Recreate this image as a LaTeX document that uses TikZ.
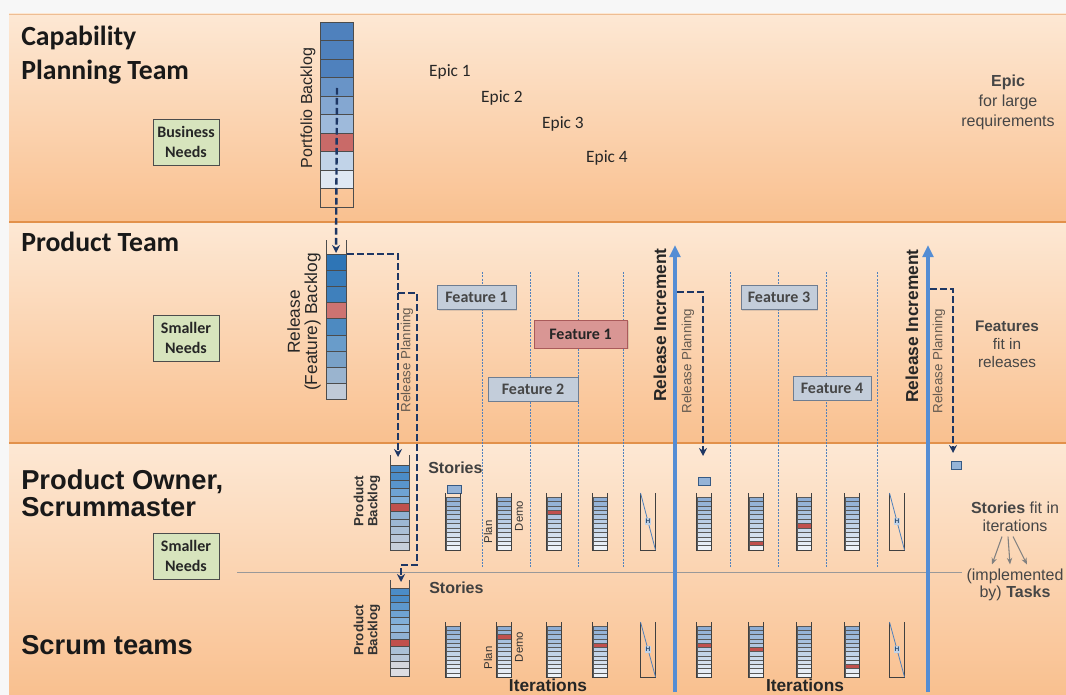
\documentclass[tikz,border=0pt]{standalone}
\usepackage{fontspec}
\setmainfont{Carlito}
\newfontfamily\arialf{Liberation Sans}
\usepackage{tikz}
\usetikzlibrary{arrows.meta,calc,positioning,shadows}
\definecolor{peachtop}{RGB}{253,232,212}
\definecolor{peachbot}{RGB}{249,192,143}
\definecolor{bandline}{RGB}{226,145,75}
\definecolor{navy}{RGB}{30,55,100}
\definecolor{incrblue}{RGB}{84,141,212}
\definecolor{sepblue}{RGB}{80,130,190}
\definecolor{cellblue}{RGB}{79,129,189}
\definecolor{relblue}{RGB}{46,117,182}
\definecolor{pbblue}{RGB}{75,140,200}
\definecolor{bkgrey}{RGB}{212,214,220}
\definecolor{cellred}{RGB}{192,80,77}
\definecolor{needgreen}{RGB}{215,228,189}
\definecolor{featgrey}{RGB}{195,205,218}
\definecolor{featedge}{RGB}{110,125,145}
\definecolor{featred}{RGB}{217,150,148}
\definecolor{featrededge}{RGB}{170,90,90}
\definecolor{textgrey}{RGB}{70,70,70}
\definecolor{relgrey}{RGB}{100,90,80}
% iteration column: x, top of posts, bottom, red row (-1 for none)
\newcommand{\itcol}[4]{%
  \foreach \i in {0,...,11} {%
    \pgfmathsetmacro{\ya}{#2+4+\i*(#3-#2-4)/12}%
    \pgfmathsetmacro{\yb}{#2+4+(\i+1)*(#3-#2-4)/12}%
    \pgfmathtruncatemacro{\sh}{65-5*\i}%
    \ifnum\i=#4\relax \colorlet{cc}{cellred}\else\colorlet{cc}{cellblue!\sh!white}\fi
    \filldraw[fill=cc, draw=black!65, line width=0.35pt] (#1-7,\ya) rectangle (#1+7,\yb);
  }%
  \draw[black!75, line width=0.6pt] (#1-7.5,#2) -- (#1-7.5,#3) -- (#1+7.5,#3) -- (#1+7.5,#2);
}
% hardening column: x, top, bottom
\newcommand{\hardcol}[3]{%
  \draw[black!75, line width=0.6pt] (#1-7.5,#2) -- (#1-7.5,#3) -- (#1+7.5,#3) -- (#1+7.5,#2);
  \draw[cellblue, line width=0.6pt] (#1-7.5,#2) -- (#1+7.5,#3);
  \node[font=\arialf\fontsize{5}{5}\selectfont\bfseries, text=cellblue!60!black, fill=cellblue!35!white, inner sep=0.6pt] (h#1-#2) at (#1,{(#2+#3)/2}) {H};
}

\begin{document}
\begin{tikzpicture}[x=0.75pt,y=-0.75pt,
  title/.style={anchor=west, align=left, inner sep=0pt, text=black!90, font=\fontsize{20.8}{25.5}\selectfont\bfseries},
  bigtitle/.style={anchor=west, align=left, inner sep=0pt, text=black!90, font=\arialf\fontsize{20.5}{20.5}\selectfont\bfseries},
  need/.style={draw=black!70, fill=needgreen, align=center, text=black!85, font=\fontsize{12}{14.5}\selectfont\bfseries, minimum width=49.5pt, minimum height=34.5pt, inner sep=0pt},
  epic/.style={font=\fontsize{13}{15}\selectfont, text=black!85},
  feat/.style={draw=featedge, fill=featgrey, text=textgrey, font=\fontsize{12}{14}\selectfont\bfseries, minimum height=18pt, inner sep=0pt, drop shadow={opacity=0.25,shadow xshift=1pt,shadow yshift=-1pt}},
  note/.style={align=center, text=textgrey, font=\arialf\fontsize{12}{15}\selectfont},
  vlabel/.style={rotate=90, align=center, inner sep=0pt},
  plan/.style={navy, line width=1.8pt, dash pattern=on 5pt off 2.5pt, -{Stealth[length=6pt,width=6pt]}},
  incr/.style={incrblue, line width=3pt, -{Triangle[length=9pt,width=8pt]}},
  itsep/.style={sepblue, line width=0.6pt, dash pattern=on 1.5pt off 1pt},
  sticky/.style={draw=cellblue!70!black, fill=cellblue!60!white, line width=0.5pt}]
  \useasboundingbox (0,0) rectangle (1066,695);
  % bands
  \fill[black!3] (0,0) rectangle (1066,695);
  \foreach \ya/\yb in {14/222,223/443,444/695} \shade[top color=peachtop, bottom color=peachbot] (9,\ya) rectangle (1066,\yb);
  \draw[bandline!60, line width=0.6pt] (9,14) -- (1066,14);
  \foreach \y in {222,443} \draw[bandline, line width=2.2pt] (9,\y) -- (1066,\y);
  \draw[black!40, line width=0.6pt] (237,572) -- (962,572);
  % teams and needs
  \node[title] (cap) at (21,55) {Capability\\Planning Team};
  \node[title] (prod) at (21,242) {Product Team};
  \node[bigtitle] (po) at (21,493) {Product Owner,\\Scrummaster};
  \node[bigtitle] (team) at (21,645) {Scrum teams};
  \node[need] (bneeds) at (186,142) {Business\\Needs};
  \node[need] (sneeds1) at (186,338) {Smaller\\Needs};
  \node[need] (sneeds2) at (186,556) {Smaller\\Needs};
  % portfolio backlog
  \foreach \c [count=\i from 0] in {cellblue,cellblue,cellblue,cellblue!85!white,cellblue!70!white,cellblue!55!white,cellred!85!white,cellblue!35!white,cellblue!18!white,none}
    \filldraw[fill=\c, draw=black!70, line width=0.5pt] (320,{22+\i*18.5}) rectangle (353,{22+(\i+1)*18.5});
  \node[vlabel, font=\arialf\fontsize{12}{14}\selectfont, text=black!85] (pflabel) at (308,108) {Portfolio Backlog};
  \coordinate (pf) at (337,88);
  % release (feature) backlog
  \foreach \c [count=\i from 0] in {relblue,relblue!95!white,relblue!92!white,cellred!80!white,relblue!85!white,relblue!72!white,relblue!55!bkgrey,relblue!35!bkgrey,relblue!12!bkgrey}
    \filldraw[fill=\c, draw=black!70, line width=0.5pt] (326,{254+\i*16.2}) rectangle (346,{254+(\i+1)*16.2});
  \draw[black!70, line width=0.5pt] (326,240) -- (326,254) (346,240) -- (346,254);
  \node[vlabel, font=\arialf\fontsize{13}{13}\selectfont, text=black!85] (rblabel) at (304,322) {Release\\(Feature) Backlog};
  \coordinate (rbtop) at (336,253);
  \coordinate (rbcorner) at (347,254);
  % product backlogs
  \foreach \c [count=\i from 0] in {pbblue,pbblue,pbblue!92!white,pbblue!80!white,pbblue!70!white,cellred,pbblue!50!bkgrey,pbblue!40!bkgrey,pbblue!30!bkgrey,pbblue!20!bkgrey,pbblue!10!bkgrey}
    \filldraw[fill=\c, draw=black!70, line width=0.5pt] (390,{465+\i*85/11}) rectangle (409,{465+(\i+1)*85/11});
  \foreach \c [count=\i from 0] in {pbblue,pbblue,pbblue!90!white,pbblue!80!white,pbblue!70!white,pbblue!60!white,pbblue!50!bkgrey,cellred,pbblue!30!bkgrey,pbblue!20!bkgrey,bkgrey,bkgrey!80!white}
    \filldraw[fill=\c, draw=black!70, line width=0.5pt] (390,{588+\i*88/12}) rectangle (409,{588+(\i+1)*88/12});
  \draw[black!70, line width=0.5pt] (390,455) -- (390,465) (409,455) -- (409,465) (390,580) -- (390,588) (409,580) -- (409,588);
  \node[vlabel, font=\arialf\fontsize{10}{10.5}\selectfont\bfseries, text=black!80] (pblabel1) at (367,501) {Product\\Backlog};
  \node[vlabel, font=\arialf\fontsize{10}{10.5}\selectfont\bfseries, text=black!80] (pblabel2) at (367,630) {Product\\Backlog};
  \coordinate (pbtop1) at (398,457);
  \coordinate (pbtop2) at (401,582);
  % iteration boundaries
  \foreach \x in {482,530,578,623,730,778,826,877} \draw[itsep] (\x,272) -- (\x,568);
  % epics and features
  \node[epic] (epic1) at (450,72) {Epic 1};
  \node[epic] (epic2) at (502,98) {Epic 2};
  \node[epic] (epic3) at (563,124) {Epic 3};
  \node[epic] (epic4) at (607,158) {Epic 4};
  \node[feat, minimum width=59pt] (feat1) at (476.5,297.5) {Feature 1};
  \node[feat, fill=featred, draw=featrededge, text=black!85, minimum width=70pt, minimum height=21pt] (feat1r) at (580.5,334) {Feature 1};
  \node[feat, minimum width=67.5pt] (feat2) at (533,389) {Feature 2};
  \node[feat, minimum width=57pt] (feat3) at (779,297.5) {Feature 3};
  \node[feat, minimum width=58.5pt] (feat4) at (832,388) {Feature 4};
  % release increments
  \coordinate (inc1b) at (675,692); \coordinate (inc1t) at (675,245);
  \coordinate (inc2b) at (928,692); \coordinate (inc2t) at (928,245);
  \draw[incr] (inc1b) -- (inc1t);
  \draw[incr] (inc2b) -- (inc2t);
  \node[vlabel, font=\arialf\fontsize{13}{13}\selectfont\bfseries, text=black!85] (inclabel1) at (660,325) {Release Increment};
  \node[vlabel, font=\arialf\fontsize{13}{13}\selectfont\bfseries, text=black!85] (inclabel2) at (912,326) {Release Increment};
  \node[vlabel, text=relgrey, font=\arialf\fontsize{10}{10}\selectfont] (rplan1) at (407,360) {Release Planning};
  \node[vlabel, text=relgrey, font=\arialf\fontsize{10}{10}\selectfont] (rplan2) at (688,361) {Release Planning};
  \node[vlabel, text=relgrey, font=\arialf\fontsize{10}{10}\selectfont] (rplan3) at (939,361) {Release Planning};
  % stories
  \node[font=\arialf\fontsize{12}{12}\selectfont\bfseries, text=black!75, anchor=west, inner sep=0pt] (stories1) at (428,468) {Stories};
  \node[font=\arialf\fontsize{12}{12}\selectfont\bfseries, text=black!75, anchor=west, inner sep=0pt] (stories2) at (429,588) {Stories};
  \filldraw[sticky] (447,485) rectangle (461,493);
  \filldraw[sticky] (698,477) rectangle (710,485);
  \filldraw[sticky] (951,461) rectangle (961,469);
  \coordinate (sticky2) at (703,456);
  \coordinate (sticky3) at (953,453);
  \coordinate (rpa) at (398,293);
  \coordinate (rpb) at (677,292);
  \coordinate (rpc) at (930,289);
  % planning flow
  \draw[plan] (pf) -- (rbtop);
  \draw[plan] (rbcorner) -| (pbtop1);
  \draw[plan] (rpa) -- ++(19,0) -- ++(0,272) -| (pbtop2);
  \draw[plan] (rpb) -| (sticky2);
  \draw[plan] (rpc) -| (sticky3);
  % iterations
  \foreach \x/\r in {453/-1,504/-1,554/3,600/-1,704/-1,756/10,804/6,852/-1} \itcol{\x}{493}{550}{\r};
  \foreach \x/\r in {453/-1,504/2,554/-1,600/4,704/4,756/5,804/-1,852/9} \itcol{\x}{622}{677}{\r};
  \hardcol{648}{493}{550} \hardcol{897}{493}{550}
  \hardcol{648}{622}{677} \hardcol{897}{622}{677}
  \node[vlabel, font=\arialf\fontsize{8.5}{9}\selectfont, text=black!80] (plan1) at (488,532) {Plan};
  \node[vlabel, font=\arialf\fontsize{8.5}{9}\selectfont, text=black!80] (demo1) at (519,516) {Demo};
  \node[vlabel, font=\arialf\fontsize{8.5}{9}\selectfont, text=black!80] (plan2) at (488,658) {Plan};
  \node[vlabel, font=\arialf\fontsize{8.5}{9}\selectfont, text=black!80] (demo2) at (519,647) {Demo};
  \node[font=\arialf\fontsize{13}{13}\selectfont\bfseries, text=black!85, inner sep=0pt] (iter1) at (548,685) {Iterations};
  \node[font=\arialf\fontsize{13}{13}\selectfont\bfseries, text=black!85, inner sep=0pt] (iter2) at (805,685) {Iterations};
  % notes on the right
  \node[note] (epicnote) at (1008,102) {\textbf{Epic}\\for large\\requirements};
  \node[note, font=\arialf\fontsize{11.5}{13.5}\selectfont] (featnote) at (1007,344) {\textbf{Features}\\fit in\\releases};
  \node[note, font=\arialf\fontsize{12}{13.5}\selectfont] (storynote) at (1015,517) {\textbf{Stories} fit in\\iterations};
  \node[note, font=\arialf\fontsize{12}{12.5}\selectfont] (tasknote) at (1015,585) {(implemented\\by) \textbf{Tasks}};
  \foreach \a/\b in {-13/-23,-7/-5,-2/12}
    \draw[gray, line width=0.8pt, -{Stealth[length=5pt,width=4pt]}] ($(storynote.south)+(\a,0)$) -- ($(tasknote.north)+(\b,0)$);
\end{tikzpicture}
\end{document}
